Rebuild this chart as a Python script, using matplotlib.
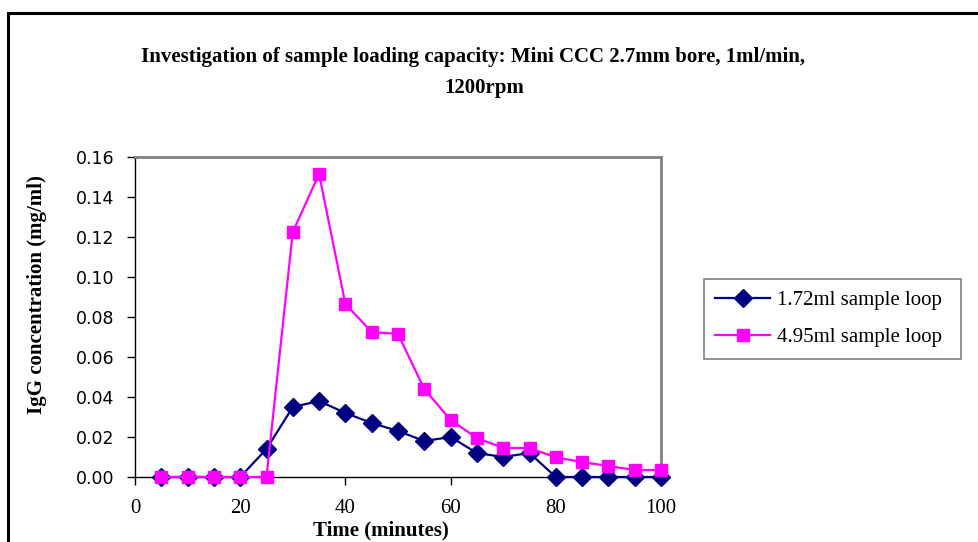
import matplotlib
matplotlib.use("Agg")
import matplotlib.pyplot as plt
from matplotlib.lines import Line2D

# Elution profiles: IgG concentration versus time
time_min = [5, 10, 15, 20, 25, 30, 35, 40, 45, 50, 55, 60, 65, 70, 75, 80, 85, 90, 95, 100]
loop_172 = [0.0, 0.0, 0.0, 0.0, 0.014, 0.035, 0.038, 0.032, 0.027, 0.023, 0.018, 0.020,
            0.012, 0.010, 0.012, 0.0, 0.0, 0.0, 0.0, 0.0]
loop_495 = [0.0, 0.0, 0.0, 0.0, 0.0, 0.1225, 0.1515, 0.0865, 0.0725, 0.0715, 0.044, 0.0285,
            0.0195, 0.0145, 0.0145, 0.0098, 0.0075, 0.0055, 0.0035, 0.0035]
series_labels = ["1.72ml sample loop", "4.95ml sample loop"]
x_ticks = [0, 20, 40, 60, 80, 100]
y_ticks = [0.00, 0.02, 0.04, 0.06, 0.08, 0.10, 0.12, 0.14, 0.16]

W, H = 979, 542
fig = plt.figure(figsize=(W / 100, H / 100), dpi=100)
fig.patch.set_facecolor("white")

serif = "Liberation Serif"
sans = "DejaVu Sans"
fs = 15

# Outer frame (top and left edges visible)
fig.add_artist(Line2D([8 / W, 1.0], [1 - 13 / H, 1 - 13 / H], color="black", lw=2.2,
                      transform=fig.transFigure))
fig.add_artist(Line2D([8 / W, 8 / W], [0.0, 1 - 13 / H], color="black", lw=2.2,
                      transform=fig.transFigure))

left, right, top, bottom = 135, 661, 157, 477
ax = fig.add_axes([left / W, (H - bottom) / H, (right - left) / W, (bottom - top) / H])

ax.plot(time_min, loop_172, color="#000080", lw=1.6, marker="D", markersize=9,
        markerfacecolor="#000080", markeredgecolor="#000080", label=series_labels[0],
        zorder=3, clip_on=False)
ax.plot(time_min, loop_495, color="#FF00FF", lw=1.6, marker="s", markersize=8.5,
        markerfacecolor="#FF00FF", markeredgecolor="#FF00FF", label=series_labels[1],
        zorder=4, clip_on=False)

ax.set_xlim(0, 100)
ax.set_ylim(0, 0.16)
ax.set_xticks(x_ticks)
ax.set_yticks(y_ticks)
ax.set_xticklabels([str(t) for t in x_ticks], fontfamily=serif, fontsize=fs)
ax.set_yticklabels([f"{t:.2f}" for t in y_ticks], fontfamily=sans, fontsize=12.5)
ax.tick_params(axis="both", direction="out", length=6, width=1, color="black")
ax.tick_params(axis="y", pad=9)
ax.tick_params(axis="x", pad=10)

for side in ("top", "right"):
    ax.spines[side].set_color("#808080")
    ax.spines[side].set_linewidth(2)
for side in ("left", "bottom"):
    ax.spines[side].set_color("black")
    ax.spines[side].set_linewidth(1)

ax.set_xlabel("Time (minutes)", fontfamily=serif, fontweight="bold", fontsize=fs)
ax.xaxis.label.set_va("center")
ax.xaxis.set_label_coords((381 - left) / (right - left), (bottom - 530) / (bottom - top))

ax.set_ylabel("IgG concentration (mg/ml)", fontfamily=serif, fontweight="bold", fontsize=fs)
ax.yaxis.label.set_va("center")
ax.yaxis.set_label_coords((37 - left) / (right - left), (bottom - 295) / (bottom - top))

fig.text(473 / W, 1 - 57 / H,
         "Investigation of sample loading capacity: Mini CCC 2.7mm bore, 1ml/min,",
         ha="center", va="center", fontfamily=serif, fontweight="bold", fontsize=fs)
fig.text(484 / W, 1 - 88 / H, "1200rpm",
         ha="center", va="center", fontfamily=serif, fontweight="bold", fontsize=fs)

# Legend box spans a fixed width to the right of the plot
leg_x0, leg_x1, leg_top, leg_bot = 704, 961, 279, 355
leg = fig.legend(loc="upper left",
                 bbox_to_anchor=(leg_x0 / W, 1 - leg_bot / H,
                                 (leg_x1 - leg_x0) / W, (leg_bot - leg_top) / H),
                 mode="expand", prop={"family": serif, "size": fs}, frameon=True,
                 fancybox=False, edgecolor="#606060", handlelength=2.6, borderpad=0.55,
                 labelspacing=0.85, handletextpad=0.35, borderaxespad=0)
leg.get_frame().set_linewidth(1.2)

fig.savefig("out.png", dpi=100, facecolor="white")
